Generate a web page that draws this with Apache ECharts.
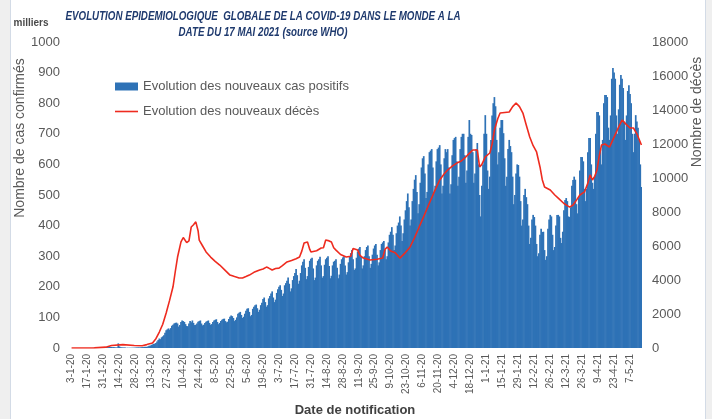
<!DOCTYPE html>
<html>
<head>
<meta charset="utf-8">
<script src="https://cdn.jsdelivr.net/npm/echarts@6/dist/echarts.min.js"></script>
<style>
  html, body { margin: 0; padding: 0; background: #efefef; }
  .panel { position: absolute; left: 10px; top: 0; width: 694px; height: 419px; background: #fff;
           border-left: 1px solid #d3dbe6; border-right: 1px solid #d3dbe6; }
  #chart { position: absolute; left: 0; top: 0; width: 712px; height: 419px; }
</style>
</head>
<body>
<div class="panel"></div>
<div id="chart"></div>
<script>
// premier jour de la série : 3-1-20
var startDate = new Date(2020, 0, 3);

// nouveaux cas quotidiens (milliers), une ligne = une semaine (ven -> jeu)
var newCases = [
  0, 0, 0, 0, 0, 0, 0,
  0, 0, 0, 0, 0, 0, 0,
  0, 0, 0, 0, 0, 0.3, 0.6,
  0.9, 1.4, 2.0, 2.7, 1.5, 1.8, 1.9,
  2.1, 2.6, 2.8, 3.2, 3.9, 3.7, 3.2,
  3.4, 2.7, 3.0, 2.5, 2.0, 2.0, 15.1,
  5.1, 2.6, 2.1, 2.0, 1.9, 1.8, 0.5,
  1.0, 0.6, 0.9, 0.6, 0.9, 0.9, 1.1,
  1.4, 1.8, 1.9, 2.0, 2.0, 2.3, 2.8,
  2.9, 3.9, 4.0, 3.8, 4.6, 7.0, 7.4,
  10.1, 11.6, 13.8, 14.0, 16.5, 21.5, 26,
  31, 29, 35, 38, 42, 50, 58,
  61, 64, 60, 65, 73, 76, 80,
  82, 83, 80, 70, 75, 85, 90,
  88, 85, 78, 72, 71, 80, 88,
  84, 90, 82, 75, 76, 80, 86,
  88, 90, 80, 74, 76, 82, 86,
  88, 90, 82, 76, 78, 85, 90,
  92, 94, 85, 78, 82, 88, 92,
  95, 96, 88, 84, 86, 95, 102,
  106, 104, 98, 88, 92, 100, 112,
  115, 118, 108, 98, 102, 112, 122,
  128, 130, 118, 104, 108, 128, 135,
  140, 142, 130, 118, 125, 140, 148,
  160, 165, 150, 135, 140, 162, 170,
  178, 185, 165, 150, 158, 180, 192,
  200, 205, 190, 170, 178, 205, 212,
  220, 230, 210, 185, 195, 222, 235,
  245, 258, 238, 210, 220, 245, 270,
  282, 290, 262, 225, 235, 265, 285,
  292, 295, 260, 222, 230, 270, 285,
  290, 298, 270, 230, 235, 272, 290,
  295, 300, 268, 228, 236, 270, 282,
  285, 290, 262, 228, 240, 275, 290,
  296, 300, 270, 240, 248, 280, 300,
  310, 320, 290, 255, 260, 295, 315,
  325, 330, 300, 260, 270, 300, 320,
  330, 335, 300, 262, 275, 305, 325,
  335, 340, 305, 270, 280, 320, 340,
  345, 350, 320, 290, 300, 345, 370,
  380, 395, 370, 320, 335, 375, 400,
  410, 430, 400, 350, 375, 420, 450,
  480, 505, 460, 400, 420, 480, 520,
  550, 565, 510, 440, 470, 540, 590,
  620, 627, 570, 490, 510, 600, 640,
  645, 650, 590, 510, 530, 610, 650,
  655, 663, 600, 505, 530, 620, 650,
  640, 650, 590, 505, 535, 630, 680,
  686, 690, 610, 530, 560, 650, 690,
  700, 700, 630, 540, 580, 690, 745,
  700, 696, 640, 540, 570, 650, 670,
  600, 500, 430, 530, 600, 700, 761,
  700, 580, 520, 560, 680, 760, 800,
  820, 790, 680, 600, 640, 720, 745,
  745, 702, 620, 530, 560, 650, 680,
  660, 640, 560, 470, 500, 570, 600,
  598, 560, 480, 400, 420, 500, 520,
  493, 470, 400, 340, 360, 420, 435,
  428, 400, 340, 300, 310, 370, 390,
  379, 380, 320, 288, 300, 390, 420,
  435, 430, 370, 320, 330, 400, 435,
  435, 430, 360, 343, 380, 450, 484,
  490, 480, 430, 428, 460, 530, 549,
  560, 550, 470, 440, 490, 580, 624,
  624, 610, 520, 480, 520, 640, 686,
  686, 600, 540, 520, 560, 700, 771,
  771, 760, 650, 600, 680, 800, 827,
  827, 820, 720, 680, 760, 880, 915,
  900, 880, 760, 700, 780, 860, 892,
  880, 850, 740, 680, 760, 840, 859,
  830, 800, 700, 640, 700, 761, 740,
  720, 680, 600, 526
];

// nouveaux décès (courbe lissée) : jour (depuis le 3-1-20) et valeur
var deathDay = [
  0, 20, 30, 35, 45, 55, 62, 66, 71, 74, 77, 80, 83, 86, 89, 91, 93, 96, 98, 99,
  101, 103, 105, 107, 109, 111, 112, 115, 118, 122, 126, 130, 135, 139, 143, 147, 150, 153, 156, 160,
  165, 168, 171, 173, 176, 179, 182, 185, 189, 193, 197, 200, 202, 204, 207, 209, 210, 215, 219, 221,
  223, 226, 228, 230, 232, 236, 241, 245, 247, 248, 251, 253, 256, 262, 268, 273, 275, 277, 280, 284,
  288, 292, 297, 301, 305, 310, 314, 318, 323, 327, 330, 334, 338, 342, 345, 349, 352, 356, 358, 360,
  363, 367, 369, 371, 374, 376, 380, 384, 387, 390, 393, 396, 399, 402, 405, 408, 411, 413, 415, 420,
  424, 427, 432, 437, 440, 443, 446, 450, 453, 455, 457, 459, 461, 463, 465, 468, 472, 476, 480, 483,
  486, 490, 493, 496, 500
];
var deathValues = [
  0, 10, 50, 150, 200, 150, 135, 200, 300, 550, 940, 1400, 2060, 2800, 3600, 4500, 5350, 6240, 6500, 6530,
  6200, 6300, 7120, 7250, 7420, 6900, 6350, 6000, 5650, 5350, 5100, 4880, 4550, 4290, 4200, 4120, 4120, 4200, 4290, 4450,
  4590, 4650, 4760, 4700, 4590, 4680, 4700, 4850, 5060, 5150, 5250, 5350, 5700, 6180, 6240, 5800, 5650, 5720, 5880, 5900,
  6350, 6300, 6240, 5900, 5760, 5500, 5350, 5400, 5850, 5940, 5760, 5450, 5290, 5180, 5220, 5290, 5800, 5940, 5700, 5600,
  5290, 5550, 5940, 6500, 7120, 7900, 8530, 9150, 9880, 10250, 10470, 10700, 10880, 11000, 11180, 11450, 11650, 11650, 10650, 10800,
  11240, 11470, 12000, 12820, 13500, 13820, 13850, 13880, 14200, 14410, 14200, 13820, 13100, 12410, 11900, 11530, 10650, 9900, 9470, 9290,
  9000, 8820, 8500, 8290, 8410, 8700, 9000, 9180, 9700, 10180, 9880, 10100, 10470, 11300, 11940, 12000, 11820, 12400, 13000, 13410,
  13200, 12940, 12940, 12600, 11940
];

// étiquettes de dates (format j-m-aa)
var dateLabels = newCases.map(function (v, i) {
    var d = new Date(startDate.getFullYear(), startDate.getMonth(), startDate.getDate() + i);
    return d.getDate() + '-' + (d.getMonth() + 1) + '-' + String(d.getFullYear()).slice(2);
});

var chart = echarts.init(document.getElementById('chart'));
var grey = '#595959';
var font = "'Liberation Sans', Arial, sans-serif";

function centered(text, x, y, css, color, rot) {
    return {
        type: 'text', x: x, y: y, rotation: rot || 0,
        style: { text: text, fill: color, font: css, textAlign: 'center', textVerticalAlign: 'middle', align: 'center', verticalAlign: 'middle' }
    };
}

var option = {
    animation: false,
    legend: {
        orient: 'vertical',
        left: 110,
        top: 75,
        itemWidth: 23,
        itemHeight: 8,
        itemGap: 12,
        textStyle: { color: grey, fontSize: 13, fontFamily: font },
        data: [
            { name: 'Evolution des nouveaux cas positifs', icon: 'rect' },
            { name: 'Evolution des nouveaux décès', icon: 'path://M0,0 L23,0 L23,1.6 L0,1.6 Z' }
        ]
    },
    grid: { left: 71, right: 70, top: 42, bottom: 71 },
    xAxis: {
        type: 'category',
        data: dateLabels,
        boundaryGap: true,
        axisLine: { show: false },
        axisTick: { show: false },
        axisLabel: {
            interval: 13,
            rotate: 90,
            margin: 6,
            fontSize: 10,
            color: grey,
            fontFamily: font
        }
    },
    yAxis: [
        {
            type: 'value',
            min: 0, max: 1000, interval: 100,
            splitLine: { show: false },
            axisLine: { show: false },
            axisTick: { show: false },
            axisLabel: { margin: 11, fontSize: 13, color: grey, fontFamily: font, formatter: function (v) { return String(v); } }
        },
        {
            type: 'value',
            min: 0, max: 18000, interval: 2000,
            splitLine: { show: false },
            axisLine: { show: false },
            axisTick: { show: false },
            axisLabel: { margin: 10, fontSize: 13, color: grey, fontFamily: font, formatter: function (v) { return String(v); } }
        }
    ],
    graphic: [
        {
            type: 'text', x: 263, y: 8, scaleX: 0.75,
            style: {
                text: 'EVOLUTION EPIDEMIOLOGIQUE  GLOBALE DE LA COVID-19 DANS LE MONDE A LA\nDATE DU 17 MAI 2021 (source WHO)',
                fill: '#1f3a6e', font: 'italic bold 13px ' + font, lineHeight: 16,
                textAlign: 'center', align: 'center', textVerticalAlign: 'top', verticalAlign: 'top'
            }
        },
        centered('milliers', 31, 23, 'bold 10px ' + font, '#4a4a4a'),
        centered('Nombre de cas confirmés', 20, 138, '14px ' + font, grey, Math.PI / 2),
        centered('Nombre de décès', 697, 112, '14px ' + font, grey, Math.PI / 2),
        centered('Date de notification', 355, 410, 'bold 13px ' + font, '#404040')
    ],
    series: [
        {
            name: 'Evolution des nouveaux cas positifs',
            type: 'bar',
            data: newCases,
            barWidth: 1.7,
            barGap: '-100%',
            itemStyle: { color: '#2e72b6' }
        },
        {
            name: 'Evolution des nouveaux décès',
            type: 'line',
            yAxisIndex: 1,
            symbol: 'none',
            data: deathDay.map(function (d, i) { return [dateLabels[d], deathValues[i]]; }),
            lineStyle: { color: '#ee2b1f', width: 1.6 },
            itemStyle: { color: '#ee2b1f' },
            z: 3
        }
    ]
};

chart.setOption(option);
</script>
</body>
</html>
